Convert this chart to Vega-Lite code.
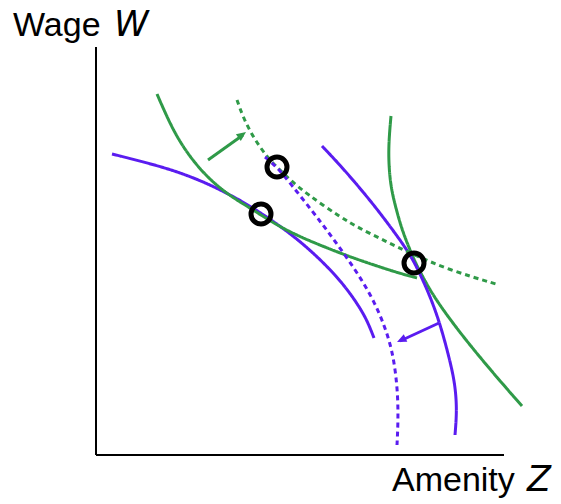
{
  "$schema": "https://vega.github.io/schema/vega-lite/v6.json",
  "width": 561,
  "height": 504,
  "autosize": {"type": "fit", "contains": "padding"},
  "padding": 0,
  "background": "white",
  "config": {"view": {"stroke": null}},
  "datasets": {
    "curves": [
      {"curve": "blue1", "kind": "worker", "state": "initial", "i": 0, "Z": 16, "W": 301},
      {"curve": "blue1", "kind": "worker", "state": "initial", "i": 1, "Z": 44, "W": 294},
      {"curve": "blue1", "kind": "worker", "state": "initial", "i": 2, "Z": 77, "W": 285},
      {"curve": "blue1", "kind": "worker", "state": "initial", "i": 3, "Z": 111, "W": 272},
      {"curve": "blue1", "kind": "worker", "state": "initial", "i": 4, "Z": 144, "W": 255},
      {"curve": "blue1", "kind": "worker", "state": "initial", "i": 5, "Z": 165, "W": 242},
      {"curve": "blue1", "kind": "worker", "state": "initial", "i": 6, "Z": 194, "W": 222},
      {"curve": "blue1", "kind": "worker", "state": "initial", "i": 7, "Z": 221, "W": 199},
      {"curve": "blue1", "kind": "worker", "state": "initial", "i": 8, "Z": 245, "W": 174},
      {"curve": "blue1", "kind": "worker", "state": "initial", "i": 9, "Z": 261, "W": 152},
      {"curve": "blue1", "kind": "worker", "state": "initial", "i": 10, "Z": 271, "W": 135},
      {"curve": "blue1", "kind": "worker", "state": "initial", "i": 11, "Z": 278, "W": 117},

      {"curve": "green1", "kind": "firm", "state": "initial", "i": 0, "Z": 61, "W": 361},
      {"curve": "green1", "kind": "firm", "state": "initial", "i": 1, "Z": 71, "W": 338},
      {"curve": "green1", "kind": "firm", "state": "initial", "i": 2, "Z": 81, "W": 318},
      {"curve": "green1", "kind": "firm", "state": "initial", "i": 3, "Z": 94, "W": 298},
      {"curve": "green1", "kind": "firm", "state": "initial", "i": 4, "Z": 111, "W": 278},
      {"curve": "green1", "kind": "firm", "state": "initial", "i": 5, "Z": 131, "W": 261},
      {"curve": "green1", "kind": "firm", "state": "initial", "i": 6, "Z": 154, "W": 247},
      {"curve": "green1", "kind": "firm", "state": "initial", "i": 7, "Z": 165, "W": 240},
      {"curve": "green1", "kind": "firm", "state": "initial", "i": 8, "Z": 184, "W": 228},
      {"curve": "green1", "kind": "firm", "state": "initial", "i": 9, "Z": 211, "W": 215},
      {"curve": "green1", "kind": "firm", "state": "initial", "i": 10, "Z": 244, "W": 202},
      {"curve": "green1", "kind": "firm", "state": "initial", "i": 11, "Z": 263, "W": 195},
      {"curve": "green1", "kind": "firm", "state": "initial", "i": 12, "Z": 299, "W": 183},
      {"curve": "green1", "kind": "firm", "state": "initial", "i": 13, "Z": 321, "W": 177},

      {"curve": "green2", "kind": "firm", "state": "initial", "i": 0, "Z": 295, "W": 339},
      {"curve": "green2", "kind": "firm", "state": "initial", "i": 1, "Z": 292, "W": 305},
      {"curve": "green2", "kind": "firm", "state": "initial", "i": 2, "Z": 294, "W": 272},
      {"curve": "green2", "kind": "firm", "state": "initial", "i": 3, "Z": 299, "W": 250},
      {"curve": "green2", "kind": "firm", "state": "initial", "i": 4, "Z": 306, "W": 225},
      {"curve": "green2", "kind": "firm", "state": "initial", "i": 5, "Z": 314, "W": 205},
      {"curve": "green2", "kind": "firm", "state": "initial", "i": 6, "Z": 320, "W": 191},
      {"curve": "green2", "kind": "firm", "state": "initial", "i": 7, "Z": 329, "W": 174},
      {"curve": "green2", "kind": "firm", "state": "initial", "i": 8, "Z": 340, "W": 155},
      {"curve": "green2", "kind": "firm", "state": "initial", "i": 9, "Z": 364, "W": 122},
      {"curve": "green2", "kind": "firm", "state": "initial", "i": 10, "Z": 397, "W": 82},
      {"curve": "green2", "kind": "firm", "state": "initial", "i": 11, "Z": 426, "W": 49},

      {"curve": "blue2", "kind": "worker", "state": "initial", "i": 0, "Z": 226, "W": 309},
      {"curve": "blue2", "kind": "worker", "state": "initial", "i": 1, "Z": 244, "W": 290},
      {"curve": "blue2", "kind": "worker", "state": "initial", "i": 2, "Z": 263, "W": 268},
      {"curve": "blue2", "kind": "worker", "state": "initial", "i": 3, "Z": 281, "W": 246},
      {"curve": "blue2", "kind": "worker", "state": "initial", "i": 4, "Z": 299, "W": 222},
      {"curve": "blue2", "kind": "worker", "state": "initial", "i": 5, "Z": 311, "W": 205},
      {"curve": "blue2", "kind": "worker", "state": "initial", "i": 6, "Z": 320, "W": 190},
      {"curve": "blue2", "kind": "worker", "state": "initial", "i": 7, "Z": 335, "W": 157},
      {"curve": "blue2", "kind": "worker", "state": "initial", "i": 8, "Z": 345, "W": 128},
      {"curve": "blue2", "kind": "worker", "state": "initial", "i": 9, "Z": 353, "W": 98},
      {"curve": "blue2", "kind": "worker", "state": "initial", "i": 10, "Z": 359, "W": 72},
      {"curve": "blue2", "kind": "worker", "state": "initial", "i": 11, "Z": 361, "W": 45},
      {"curve": "blue2", "kind": "worker", "state": "initial", "i": 12, "Z": 359, "W": 20},

      {"curve": "green3", "kind": "firm", "state": "shifted", "i": 0, "Z": 141, "W": 355},
      {"curve": "green3", "kind": "firm", "state": "shifted", "i": 1, "Z": 147, "W": 338},
      {"curve": "green3", "kind": "firm", "state": "shifted", "i": 2, "Z": 157, "W": 318},
      {"curve": "green3", "kind": "firm", "state": "shifted", "i": 3, "Z": 171, "W": 298},
      {"curve": "green3", "kind": "firm", "state": "shifted", "i": 4, "Z": 181, "W": 288},
      {"curve": "green3", "kind": "firm", "state": "shifted", "i": 5, "Z": 194, "W": 275},
      {"curve": "green3", "kind": "firm", "state": "shifted", "i": 6, "Z": 211, "W": 261},
      {"curve": "green3", "kind": "firm", "state": "shifted", "i": 7, "Z": 244, "W": 238},
      {"curve": "green3", "kind": "firm", "state": "shifted", "i": 8, "Z": 263, "W": 227},
      {"curve": "green3", "kind": "firm", "state": "shifted", "i": 9, "Z": 289, "W": 214},
      {"curve": "green3", "kind": "firm", "state": "shifted", "i": 10, "Z": 314, "W": 202},
      {"curve": "green3", "kind": "firm", "state": "shifted", "i": 11, "Z": 353, "W": 185},
      {"curve": "green3", "kind": "firm", "state": "shifted", "i": 12, "Z": 400, "W": 171},

      {"curve": "blue3", "kind": "worker", "state": "shifted", "i": 0, "Z": 169, "W": 298},
      {"curve": "blue3", "kind": "worker", "state": "shifted", "i": 1, "Z": 181, "W": 288},
      {"curve": "blue3", "kind": "worker", "state": "shifted", "i": 2, "Z": 194, "W": 272},
      {"curve": "blue3", "kind": "worker", "state": "shifted", "i": 3, "Z": 217, "W": 243},
      {"curve": "blue3", "kind": "worker", "state": "shifted", "i": 4, "Z": 233, "W": 222},
      {"curve": "blue3", "kind": "worker", "state": "shifted", "i": 5, "Z": 249, "W": 200},
      {"curve": "blue3", "kind": "worker", "state": "shifted", "i": 6, "Z": 264, "W": 178},
      {"curve": "blue3", "kind": "worker", "state": "shifted", "i": 7, "Z": 278, "W": 154},
      {"curve": "blue3", "kind": "worker", "state": "shifted", "i": 8, "Z": 289, "W": 128},
      {"curve": "blue3", "kind": "worker", "state": "shifted", "i": 9, "Z": 296, "W": 105},
      {"curve": "blue3", "kind": "worker", "state": "shifted", "i": 10, "Z": 300, "W": 80},
      {"curve": "blue3", "kind": "worker", "state": "shifted", "i": 11, "Z": 302, "W": 55},
      {"curve": "blue3", "kind": "worker", "state": "shifted", "i": 12, "Z": 302, "W": 30},
      {"curve": "blue3", "kind": "worker", "state": "shifted", "i": 13, "Z": 301, "W": 10}
    ],
    "arrows": [
      {"kind": "firm", "Z": 112, "W": 295, "Z2": 147, "W2": 320, "tipZ": 150, "tipW": 323, "dir": 54},
      {"kind": "worker", "Z": 343, "W": 132, "Z2": 304, "W2": 114, "tipZ": 301, "tipW": 113, "dir": 245}
    ],
    "axes": [
      {"Z": 0, "W": 0, "Z2": 0, "W2": 408},
      {"Z": 0, "W": 0, "Z2": 408, "W2": 0}
    ],
    "equilibria": [
      {"Z": 165, "W": 241},
      {"Z": 181, "W": 288},
      {"Z": 318, "W": 192}
    ]
  },
  "encoding": {
    "x": {"type": "quantitative", "scale": {"domain": [-96, 465], "nice": false, "zero": false}, "axis": null},
    "y": {"type": "quantitative", "scale": {"domain": [-49, 455], "nice": false, "zero": false}, "axis": null}
  },
  "layer": [
    {
      "data": {"name": "axes"},
      "mark": {"type": "rule", "color": "black", "strokeWidth": 2},
      "encoding": {
        "x": {"field": "Z", "type": "quantitative"},
        "y": {"field": "W", "type": "quantitative"},
        "x2": {"field": "Z2"},
        "y2": {"field": "W2"}
      }
    },
    {
      "data": {"name": "curves"},
      "mark": {"type": "line", "interpolate": "basis", "strokeWidth": 3, "strokeCap": "butt", "clip": false},
      "encoding": {
        "x": {"field": "Z", "type": "quantitative"},
        "y": {"field": "W", "type": "quantitative"},
        "order": {"field": "i", "type": "quantitative"},
        "detail": {"field": "curve", "type": "nominal"},
        "color": {"field": "kind", "type": "nominal", "scale": {"domain": ["worker", "firm"], "range": ["#5a1cf0", "#2f9a48"]}, "legend": null},
        "strokeDash": {"field": "state", "type": "nominal", "scale": {"domain": ["initial", "shifted"], "range": [[1, 0], [5, 4]]}, "legend": null}
      }
    },
    {
      "data": {"name": "arrows"},
      "mark": {"type": "rule", "strokeWidth": 3},
      "encoding": {
        "x": {"field": "Z", "type": "quantitative"},
        "y": {"field": "W", "type": "quantitative"},
        "x2": {"field": "Z2"},
        "y2": {"field": "W2"},
        "color": {"field": "kind", "type": "nominal", "scale": {"domain": ["worker", "firm"], "range": ["#5a1cf0", "#2f9a48"]}, "legend": null}
      }
    },
    {
      "data": {"name": "arrows"},
      "mark": {"type": "point", "shape": "M0,0L-0.8,1.8L0.8,1.8Z", "filled": true, "opacity": 1, "size": 110},
      "encoding": {
        "x": {"field": "tipZ", "type": "quantitative"},
        "y": {"field": "tipW", "type": "quantitative"},
        "angle": {"field": "dir", "type": "quantitative", "scale": null},
        "color": {"field": "kind", "type": "nominal", "scale": {"domain": ["worker", "firm"], "range": ["#5a1cf0", "#2f9a48"]}, "legend": null}
      }
    },
    {
      "data": {"name": "equilibria"},
      "mark": {"type": "point", "shape": "circle", "filled": false, "stroke": "black", "strokeWidth": 5, "size": 400, "opacity": 1},
      "encoding": {
        "x": {"field": "Z", "type": "quantitative"},
        "y": {"field": "W", "type": "quantitative"}
      }
    },
    {
      "data": {"values": [
        {"label": "Wage", "Z": -83, "W": 419},
        {"label": "Amenity", "Z": 296, "W": -36}
      ]},
      "mark": {"type": "text", "align": "left", "baseline": "alphabetic", "font": "Liberation Sans", "fontSize": 34, "color": "black"},
      "encoding": {
        "x": {"field": "Z", "type": "quantitative"},
        "y": {"field": "W", "type": "quantitative"},
        "text": {"field": "label"}
      }
    },
    {
      "data": {"values": [
        {"label": "W", "Z": 18, "W": 419},
        {"label": "Z", "Z": 431, "W": -36}
      ]},
      "mark": {"type": "text", "align": "left", "baseline": "alphabetic", "font": "DejaVu Sans", "fontStyle": "italic", "fontSize": 35, "color": "black"},
      "encoding": {
        "x": {"field": "Z", "type": "quantitative"},
        "y": {"field": "W", "type": "quantitative"},
        "text": {"field": "label"}
      }
    }
  ]
}
